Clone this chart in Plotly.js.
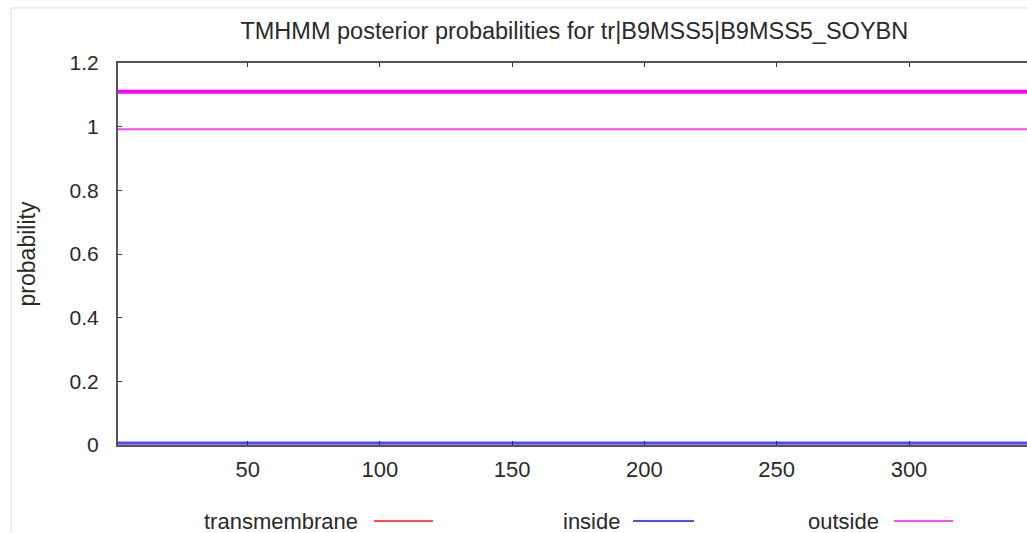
<!DOCTYPE html>
<html>
<head>
<meta charset="utf-8">
<script src="https://cdn.plot.ly/plotly-3.0.1.min.js"></script>
<style>html,body{margin:0;padding:0;background:#fff;overflow:hidden}</style>
</head>
<body>
<div id="chart" style="width:1027px;height:533px"></div>
<script>
// Residue positions (sequence ends) and posterior probabilities
var residues = [1, 345];
var transmembrane = [0.0, 0.0];
var inside = [0.0065, 0.0065];
var outside = [0.992, 0.992];
var topologyOutside = [1.11, 1.11];
var xTicks = [50, 100, 150, 200, 250, 300];
var yTicks = [0, 0.2, 0.4, 0.6, 0.8, 1, 1.2];
var yTickLabels = ['0', '0.2', '0.4', '0.6', '0.8', '1', '1.2'];
var legendNames = ['transmembrane', 'inside', 'outside'];
var legendColors = ['#ff4d4d', '#4d4dff', '#ff4dff'];

var font = {family: 'Liberation Sans, Arial, sans-serif', color: '#2a2a2a'};

var traces = [
  {x: residues, y: transmembrane, mode: 'lines', line: {color: '#ff4d4d', width: 1}, name: legendNames[0]},
  {x: residues, y: topologyOutside, mode: 'lines', line: {color: '#ff00ff', width: 4}, hoverinfo: 'skip'},
  {x: residues, y: outside, mode: 'lines', line: {color: '#ff44ff', width: 2}, name: legendNames[2]},
  {x: residues, y: inside, mode: 'lines', line: {color: '#4d4dff', width: 3}, name: legendNames[1]}
];

var legendText = [0.2662, 0.5541, 0.8394];
var legendLine0 = [0.2816, 0.5666, 0.8537];
var legendLine1 = [0.3465, 0.6337, 0.9186];
var legY = -0.199;

var annotations = [];
var shapes = [
  {type: 'line', xref: 'paper', yref: 'paper', x0: -0.1177, x1: -0.1177, y0: 1.144, y1: -0.24, line: {color: '#dcdcdc', width: 1}},
  {type: 'line', xref: 'paper', yref: 'paper', x0: -0.1177, x1: 1.01, y0: 1.144, y1: 1.144, line: {color: '#dcdcdc', width: 1}}
];
for (var i = 0; i < legendNames.length; i++) {
  annotations.push({xref: 'paper', yref: 'paper', x: legendText[i], y: legY, xanchor: 'right', yanchor: 'middle',
    text: legendNames[i], showarrow: false, font: {family: font.family, color: font.color, size: 22}});
  shapes.push({type: 'line', xref: 'paper', yref: 'paper', x0: legendLine0[i], x1: legendLine1[i], y0: legY, y1: legY,
    line: {color: legendColors[i], width: 2}});
}

var layout = {
  width: 1027, height: 533,
  margin: {l: 118, r: 0, t: 63, b: 88},
  paper_bgcolor: '#ffffff', plot_bgcolor: '#ffffff',
  showlegend: false,
  font: {family: font.family, color: font.color, size: 22},
  title: {text: 'TMHMM posterior probabilities for tr|B9MSS5|B9MSS5_SOYBN', font: {size: 23.5, family: font.family, color: font.color},
    x: 0.502, xref: 'paper', y: 1 - 31/533, yref: 'container', yanchor: 'middle'},
  xaxis: {range: [1, 344.6], tickvals: xTicks, ticktext: xTicks.map(String), ticks: 'inside', ticklen: 4, tickcolor: '#333',
    showline: true, linecolor: '#555', linewidth: 2, mirror: 'ticks', showgrid: false, zeroline: false,
    ticklabelstandoff: 4, tickfont: {size: 22}},
  yaxis: {range: [0, 1.2], tickvals: yTicks, ticktext: yTickLabels, ticks: 'inside', ticklen: 4, tickcolor: '#333',
    showline: true, linecolor: '#555', linewidth: 2, showgrid: false, zeroline: false,
    ticklabelstandoff: 13, tickfont: {size: 21}},
  annotations: annotations.concat([]),
  shapes: shapes
};
layout.yaxis.title = {text: 'probability', font: {size: 23}, standoff: 28};

Plotly.newPlot('chart', traces, layout, {displayModeBar: false, staticPlot: true});
</script>
</body>
</html>
